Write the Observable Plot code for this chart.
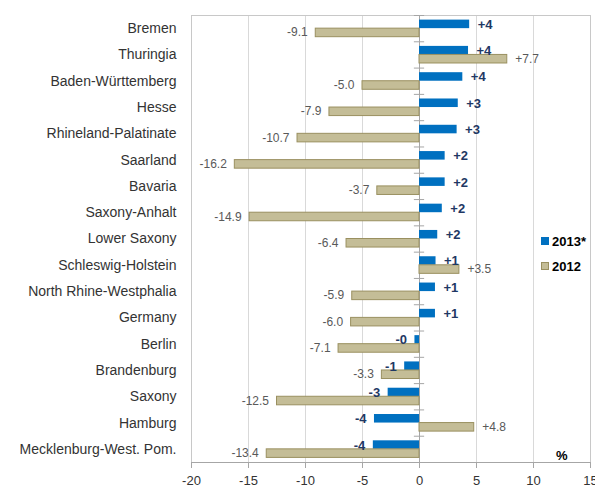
<!DOCTYPE html>
<html>
<head>
<meta charset="utf-8">
<script src="https://cdn.jsdelivr.net/npm/d3@7"></script>
<script src="https://cdn.jsdelivr.net/npm/@observablehq/plot@0.6"></script>
<style>
  html, body { margin: 0; padding: 0; background: #fff; }
  #wrap { position: relative; width: 595px; height: 488px; }
  #legend { position: absolute; left: 541px; top: 233px; font: bold 13px "Liberation Sans", Arial, sans-serif; color: #000; }
  #legend .row { display: flex; align-items: center; height: 16px; margin-bottom: 9px; }
  #legend .sw { width: 8px; height: 8px; margin-right: 3px; box-sizing: border-box; }
</style>
</head>
<body>
<div id="wrap"></div>
<script>
const categories = ["Bremen","Thuringia","Baden-Württemberg","Hesse","Rhineland-Palatinate","Saarland","Bavaria","Saxony-Anhalt","Lower Saxony","Schleswig-Holstein","North Rhine-Westphalia","Germany","Berlin","Brandenburg","Saxony","Hamburg","Mecklenburg-West. Pom."];
const values2013 = [4.4, 4.3, 3.8, 3.4, 3.3, 2.25, 2.25, 2.0, 1.6, 1.45, 1.4, 1.4, -0.4, -1.3, -2.75, -3.95, -4.05];
const values2012 = [-9.1, 7.7, -5.0, -7.9, -10.7, -16.2, -3.7, -14.9, -6.4, 3.5, -5.9, -6.0, -7.1, -3.3, -12.5, 4.8, -13.4];
const seriesNames = ["2013*", "2012"];
const seriesColors = ["#0070C0", "#C4BD97"];
const xTicks = [-20, -15, -10, -5, 0, 5, 10, 15];
const unitLabel = "%";

const data2013 = categories.map((c, i) => ({cat: c, value: values2013[i]}));
const data2012 = categories.map((c, i) => ({cat: c, value: values2012[i]}));

const W = 595, H = 488, mT = 15, mB = 26, mL = 191, mR = 5;
const step = (H - mT - mB) / categories.length;
const padIn = 0.35;
const half = step * (1 - padIn) / 2;

const fmt13 = d => (d.value < 0 ? "-" : "+") + Math.round(Math.abs(d.value));
const fmt12 = d => (d.value > 0 ? "+" : "") + d.value.toFixed(1);

const chart = Plot.plot({
  width: W, height: H,
  marginTop: mT, marginBottom: mB, marginLeft: mL, marginRight: mR,
  style: {fontFamily: "'Liberation Sans', Arial, sans-serif", color: "#333", background: "#fff"},
  x: {domain: [-20, 15]},
  y: {domain: categories, paddingInner: padIn, paddingOuter: padIn / 2, round: false},
  marks: [
    Plot.gridX(xTicks, {stroke: "#d9d9d9", strokeOpacity: 1}),
    Plot.frame({stroke: "#c8c8c8"}),
    Plot.ruleX([0], {stroke: "#a6a6a6"}),
    Plot.ruleY(categories, {y: d => d, x1: -0.45, x2: 0.45, dy: -step / 2, stroke: "#a6a6a6"}),
    Plot.barX(data2013, {y: "cat", x1: () => 0, x2: "value", fill: seriesColors[0], insetBottom: half}),
    Plot.barX(data2012, {y: "cat", x1: () => 0, x2: "value", fill: seriesColors[1], stroke: "#9A9060", strokeWidth: 1, insetTop: half}),
    Plot.frame({anchor: "bottom", stroke: "#a6a6a6"}),
    Plot.text(data2013, {filter: d => d.value >= 0, x: "value", y: "cat", text: fmt13, textAnchor: "start", dx: 8, dy: -4, fill: "#1F3864", fontWeight: "bold", fontSize: 13}),
    Plot.text(data2013, {filter: d => d.value < 0, x: "value", y: "cat", text: fmt13, textAnchor: "end", dx: -8, dy: -4, fill: "#1F3864", fontWeight: "bold", fontSize: 13}),
    Plot.text(data2012, {filter: d => d.value >= 0, x: "value", y: "cat", text: fmt12, textAnchor: "start", dx: 8, dy: 4, fill: "#595959", fontSize: 12}),
    Plot.text(data2012, {filter: d => d.value < 0, x: "value", y: "cat", text: fmt12, textAnchor: "end", dx: -8, dy: 4, fill: "#595959", fontSize: 12}),
    Plot.text([unitLabel], {frameAnchor: "bottom-right", dx: -23, dy: -3, fontWeight: "bold", fontSize: 13, fill: "#000"}),
    Plot.axisX({ticks: xTicks, tickFormat: d => String(d), tickSize: 6, tickPadding: 7, fontSize: 13, stroke: "#a6a6a6", label: null}),
    Plot.axisY({tickSize: 0, tickPadding: 15, fontSize: 14, label: null})
  ]
});

const wrap = document.getElementById("wrap");
wrap.appendChild(chart);
const legend = document.createElement("div");
legend.id = "legend";
seriesNames.forEach((name, i) => {
  const row = document.createElement("div");
  row.className = "row";
  const sw = document.createElement("div");
  sw.className = "sw";
  sw.style.background = seriesColors[i];
  if (i === 1) sw.style.border = "1px solid #9A9060";
  const t = document.createElement("span");
  t.textContent = name;
  row.appendChild(sw); row.appendChild(t);
  legend.appendChild(row);
});
wrap.appendChild(legend);
</script>
</body>
</html>
